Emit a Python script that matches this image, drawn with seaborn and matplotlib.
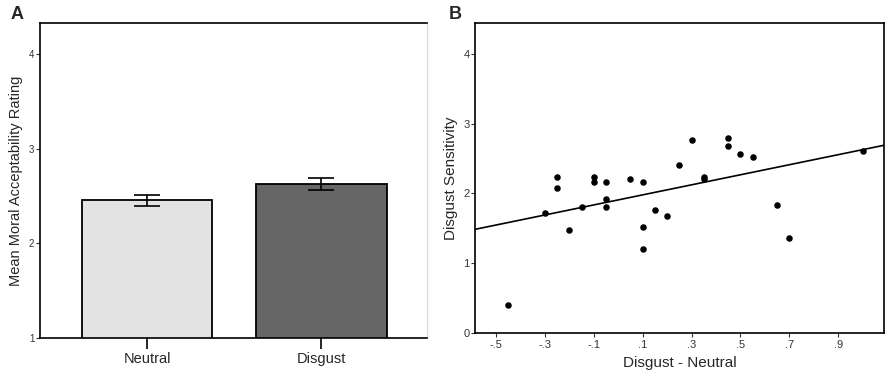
import numpy as np
import pandas as pd
import matplotlib
matplotlib.use('Agg')
import matplotlib.pyplot as plt
import seaborn as sns

sns.set_style('white')
plt.rcParams['font.family'] = ['Liberation Sans', 'DejaVu Sans']

# panel A data
conditions = ['Neutral', 'Disgust']
mean_rating = [2.454, 2.627]
rating_se = [0.055, 0.063]
bar_colors = ['#e3e3e3', '#666666']

# panel B data
diff = [-0.45, -0.30, -0.25, -0.25, -0.20, -0.15, -0.10, -0.10, -0.05, -0.05,
        -0.05, 0.05, 0.10, 0.10, 0.10, 0.15, 0.20, 0.25, 0.30, 0.35,
        0.35, 0.45, 0.45, 0.50, 0.55, 0.65, 0.70, 1.00]
sensitivity = [0.40, 1.72, 2.24, 2.08, 1.48, 1.80, 2.24, 2.16, 2.16, 1.92,
               1.80, 2.20, 2.16, 1.52, 1.20, 1.76, 1.68, 2.40, 2.76, 2.24,
               2.20, 2.80, 2.68, 2.56, 2.52, 1.84, 1.36, 2.60]
xticks_b = [-0.5, -0.3, -0.1, 0.1, 0.3, 0.5, 0.7, 0.9]
xticklabels_b = ['-.5', '-.3', '-.1', '.1', '.3', '.5', '.7', '.9']

fig = plt.figure(figsize=(8.92, 3.87), dpi=100)
ax1 = fig.add_axes([0.0448, 0.1266, 0.434, 0.814])
ax2 = fig.add_axes([0.5325, 0.1395, 0.4585, 0.801])

# --- A ---
dfa = pd.DataFrame({'cond': conditions, 'rating': mean_rating})
sns.barplot(data=dfa, x='cond', y='rating', hue='cond', palette=bar_colors,
            legend=False, width=0.75, edgecolor='black', linewidth=1.3, ax=ax1)
ax1.errorbar(x=range(len(conditions)), y=mean_rating, yerr=rating_se,
             fmt='none', ecolor='black', elinewidth=1.2, capsize=9.5, capthick=1.2)
ax1.set_ylim(1, 4.33)
ax1.set_xlim(-0.615, 1.607)
ax1.set_yticks([1, 2, 3, 4])
ax1.set_xlabel('')
ax1.set_ylabel('Mean Moral Acceptability Rating', fontsize=10.5)
ax1.tick_params(axis='y', left=True, length=3, width=0.8, labelsize=7, pad=1, colors='#333333')
ax1.tick_params(axis='x', bottom=True, length=8, width=1.2, labelsize=10.5, pad=2, color='black')
for s in ['left', 'bottom', 'top']:
    ax1.spines[s].set_color('black')
    ax1.spines[s].set_linewidth(1.2)
ax1.spines['right'].set_color('#dddddd')
ax1.spines['right'].set_linewidth(1.0)
fig.text(0.012, 0.985, 'A', fontsize=13, fontweight='bold', va='top')

# --- B ---
ax2.set_xlim(-0.586, 1.087)
ax2.set_ylim(0, 4.44)
dfb = pd.DataFrame({'diff': diff, 'sens': sensitivity})
sns.regplot(data=dfb, x='diff', y='sens', ci=None, truncate=False, ax=ax2,
            scatter_kws={'s': 22, 'color': 'black', 'linewidths': 0, 'alpha': 1},
            line_kws={'color': 'black', 'linewidth': 1.2})
ax2.set_xticks(xticks_b)
ax2.set_xticklabels(xticklabels_b)
ax2.set_yticks([0, 1, 2, 3, 4])
ax2.set_xlabel('Disgust - Neutral', fontsize=11)
ax2.set_ylabel('Disgust Sensitivity', fontsize=11)
ax2.tick_params(axis='y', left=True, length=3, width=0.8, labelsize=8, pad=1, colors='#333333')
ax2.tick_params(axis='x', bottom=True, length=3, width=0.8, labelsize=8, pad=2, colors='#333333')
for s in ['left', 'bottom', 'top', 'right']:
    ax2.spines[s].set_color('black')
    ax2.spines[s].set_linewidth(1.2)
fig.text(0.503, 0.985, 'B', fontsize=13, fontweight='bold', va='top')

fig.savefig('out.png', dpi=100)
